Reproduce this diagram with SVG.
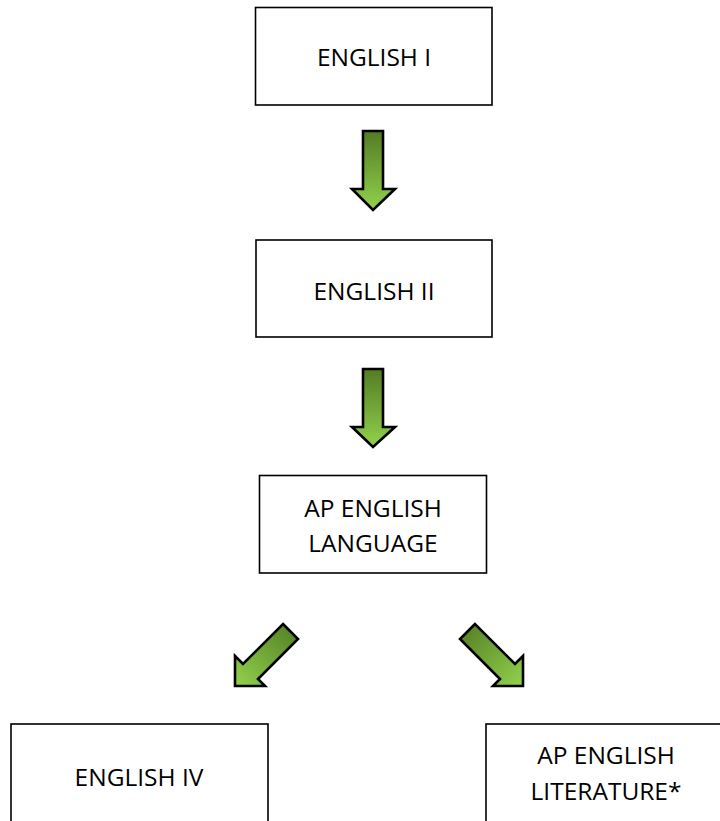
<svg xmlns="http://www.w3.org/2000/svg" width="720" height="821" viewBox="0 0 720 821">
<style>
.box{fill:#fff;stroke:#000;stroke-width:1.6}
.lbl{font-family:"Open Sans","Noto Sans","Liberation Sans",sans-serif;font-size:24.5px;fill:#000;text-anchor:middle}
.arr{stroke:#000;stroke-width:2.6;stroke-linejoin:miter}
</style>
<defs>
<linearGradient id="gDown" x1="0" y1="0" x2="0" y2="1">
<stop offset="0" stop-color="#527c24"/>
<stop offset="1" stop-color="#92d24c"/>
</linearGradient>
<linearGradient id="gDL" x1="1" y1="0" x2="0" y2="1">
<stop offset="0" stop-color="#527c24"/>
<stop offset="1" stop-color="#92d24c"/>
</linearGradient>
<linearGradient id="gDR" x1="0" y1="0" x2="1" y2="1">
<stop offset="0" stop-color="#527c24"/>
<stop offset="1" stop-color="#92d24c"/>
</linearGradient>
</defs>
<rect width="720" height="821" fill="#fff"/>
<g id="connectors">
<polygon class="arr" fill="url(#gDown)" points="363,131 383,131 383,189 395,189 373,210 352,189 363,189"/>
<polygon class="arr" fill="url(#gDown)" points="363,369 383,369 383,427 395,427 373,447 352,427 363,427"/>
<polygon class="arr" fill="url(#gDL)" points="283,624 298,639 258,679 265,686 235,686 235,656 243,664"/>
<polygon class="arr" fill="url(#gDR)" points="475,624 460,639 500,679 493,686 523,686 523,656 515,664"/>
</g>
<g id="english1">
<rect class="box" x="255.5" y="7.5" width="236.5" height="97.5"/>
<text class="lbl" x="374" y="66">ENGLISH I</text>
</g>
<g id="english2">
<rect class="box" x="256" y="240" width="236" height="97"/>
<text class="lbl" x="374" y="300">ENGLISH II</text>
</g>
<g id="apLanguage">
<rect class="box" x="259.5" y="475.5" width="227" height="97.5"/>
<text class="lbl" x="373" y="517">AP ENGLISH</text>
<text class="lbl" x="373" y="552">LANGUAGE</text>
</g>
<g id="english4">
<rect class="box" x="11" y="724" width="257" height="110"/>
<text class="lbl" x="139" y="786">ENGLISH IV</text>
</g>
<g id="apLiterature">
<rect class="box" x="486" y="724" width="250" height="110"/>
<text class="lbl" x="606" y="764">AP ENGLISH</text>
<text class="lbl" x="606" y="800">LITERATURE*</text>
</g>
</svg>
